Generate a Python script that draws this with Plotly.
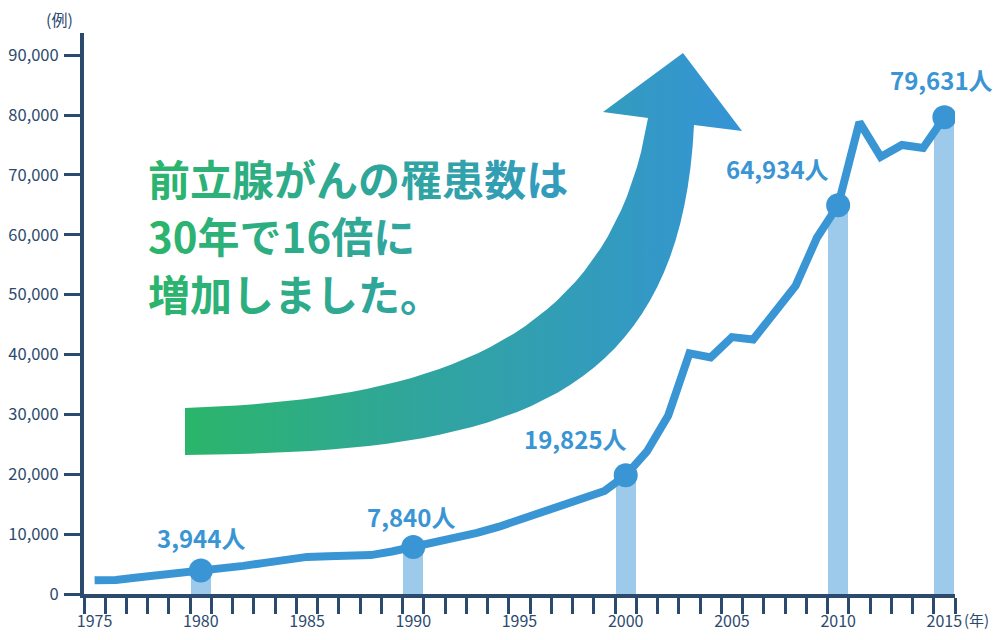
import plotly.graph_objects as go

# ---------------- data ----------------
years = list(range(1975, 2016))
cases = [2300, 2350, 2750, 3100, 3500, 3944, 4200, 4700, 5200, 5700,
         6200, 6300, 6400, 6500, 7100, 7840, 8500, 9300, 10200, 11200,
         12400, 13700, 15000, 16300, 17200, 19825, 23800, 29800, 40200, 39500,
         42900, 42500, 47000, 51500, 59500, 64934, 78800, 73000, 75000, 74500,
         79631]
highlight_years = [1980, 1990, 2000, 2010, 2015]
label_years = [1975, 1980, 1985, 1990, 1995, 2000, 2005, 2010, 2015]
y_ticks = [0, 10000, 20000, 30000, 40000, 50000, 60000, 70000, 80000, 90000]
headline = ["前立腺がんの罹患数は", "30年で16倍に", "増加しました。"]

highlight_values = [cases[years.index(y)] for y in highlight_years]

# ---------------- style ----------------
NAVY = "#2c4a6e"
LINE = "#3a95d4"
BAR = "#9dcaea"
FONT = "Noto Sans CJK JP"
GREEN = (43, 181, 106)
BLUE = (53, 148, 214)

OFF = 8                      # default page body margin
W, H = 1000 - 2 * OFF, 640 - 2 * OFF
# plot area in page pixels
L, R, T, B = 84, 955, 33, 594


def mix(t):
    t = max(0.0, min(1.0, t))
    c = [round(GREEN[i] + (BLUE[i] - GREEN[i]) * t) for i in range(3)]
    return "#%02x%02x%02x" % tuple(c)


def px(x):
    return (x - L) / (R - L)


def py(y):
    return (B - y) / (B - T)


fig = go.Figure()

# decorative gradient arrow (page-pixel coordinates on a hidden overlay axis)
def bez(p0, p1, p2, p3, n=40):
    pts = []
    for k in range(n + 1):
        t = k / n
        a, b, c, d = (1 - t) ** 3, 3 * (1 - t) ** 2 * t, 3 * (1 - t) * t ** 2, t ** 3
        pts.append((a * p0[0] + b * p1[0] + c * p2[0] + d * p3[0],
                    a * p0[1] + b * p1[1] + c * p2[1] + d * p3[1]))
    return pts

upper = bez((185, 408), (420, 400), (610, 350), (648, 118))
lower = bez((185, 455), (480, 452), (680, 420), (694, 125))
head = [(603, 112), (683, 53), (742, 131)]
poly = upper + head + lower[::-1]
poly.append(poly[0])
fig.add_trace(go.Scatter(
    x=[p[0] for p in poly], y=[p[1] for p in poly],
    xaxis="x2", yaxis="y2", mode="lines", line=dict(width=0),
    fill="toself",
    fillgradient=dict(type="horizontal",
                      colorscale=[[0, mix(0)], [0.45, mix(0.5)], [1, mix(1)]]),
    hoverinfo="skip", showlegend=False))

# bars for highlighted years
fig.add_trace(go.Bar(x=highlight_years, y=highlight_values, width=0.95,
                     marker=dict(color=BAR, line=dict(width=0)),
                     hoverinfo="skip", showlegend=False))

# main line
fig.add_trace(go.Scatter(x=years, y=cases, mode="lines",
                         line=dict(color=LINE, width=8),
                         hoverinfo="skip", showlegend=False))
# highlight markers
fig.add_trace(go.Scatter(x=highlight_years, y=highlight_values, mode="markers",
                         marker=dict(color=LINE, size=24),
                         hoverinfo="skip", showlegend=False))

# value labels
shifts = {1980: (0, 33), 1990: (-2, 31), 2000: (-50, 37), 2010: (-61, 37), 2015: (-3, 38)}
for yr, v in zip(highlight_years, highlight_values):
    dx, dy = shifts[yr]
    fig.add_annotation(x=yr, y=v, text=f"{v:,}人", showarrow=False,
                       xshift=dx, yshift=dy,
                       font=dict(family=FONT, size=24, color=LINE, weight="bold"))

# headline text with per-character gradient
line_y = [177, 234, 292]
for txt, yy in zip(headline, line_y):
    x = 148
    parts = []
    for ch in txt:
        w = 42 if ord(ch) > 255 else 24
        parts.append(f'<span style="color:{mix((x + w / 2 - 148) / 520)}">{ch}</span>')
        x += w
    fig.add_annotation(x=px(146), y=py(yy), xref="paper", yref="paper",
                       xanchor="left", yanchor="middle",
                       text="".join(parts), showarrow=False,
                       font=dict(family=FONT, size=42, weight="bold"))

# unit labels
fig.add_annotation(x=px(59), y=py(19), xref="paper", yref="paper", text="(例)",
                   xanchor="center", yanchor="middle",
                   showarrow=False, font=dict(family=FONT, size=16, color=NAVY))
fig.add_annotation(x=px(976), y=py(619), xref="paper", yref="paper", text="(年)",
                   xanchor="center", yanchor="middle",
                   showarrow=False, font=dict(family=FONT, size=15, color=NAVY))

fig.update_layout(
    width=W, height=H, autosize=False,
    margin=dict(l=L - OFF, r=W - (R - OFF), t=T - OFF, b=H - (B - OFF), autoexpand=False),
    paper_bgcolor="white", plot_bgcolor="white",
    font=dict(family=FONT, color=NAVY),
    bargap=0,
    xaxis=dict(range=[1974.5, 2015.5], tickvals=label_years,
               ticktext=[str(y) for y in label_years],
               ticks="outside", ticklen=16, tickcolor="rgba(0,0,0,0)",
               ticklabelstandoff=-6,
               minor=dict(tick0=1974.5, dtick=1, ticks="outside", ticklen=16,
                          tickwidth=3, tickcolor=NAVY),
               showline=True, linecolor=NAVY, linewidth=4,
               showgrid=False, zeroline=False, automargin=False,
               tickfont=dict(family=FONT, size=16, color=NAVY)),
    yaxis=dict(range=[0, 93700], tickvals=y_ticks,
               ticktext=[f"{v:,}" for v in y_ticks],
               ticks="outside", ticklen=16, tickwidth=3, tickcolor=NAVY,
               ticklabelstandoff=2,
               showline=True, linecolor=NAVY, linewidth=4,
               showgrid=False, zeroline=False, automargin=False,
               tickfont=dict(family=FONT, size=16.5, color=NAVY)),
    xaxis2=dict(overlaying="x", range=[L, R], visible=False, fixedrange=True),
    yaxis2=dict(overlaying="y", range=[B, T], visible=False, fixedrange=True),
)

fig.write_html("out.html")
